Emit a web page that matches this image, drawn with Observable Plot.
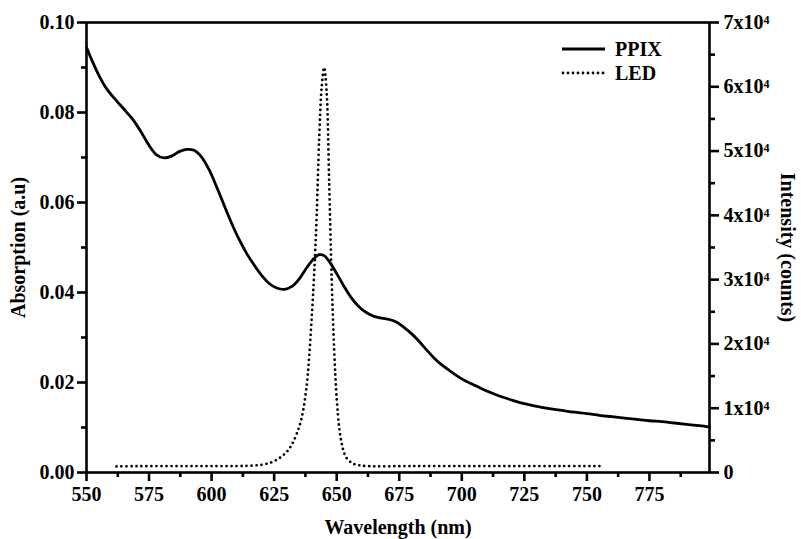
<!DOCTYPE html>
<html><head><meta charset="utf-8">
<script src="https://cdn.jsdelivr.net/npm/d3@7"></script>
<script src="https://cdn.jsdelivr.net/npm/@observablehq/plot@0.6"></script>
<style>
body{margin:0;background:#fff;}
#wrap{position:relative;width:801px;height:539px;}
#legend{position:absolute;left:560px;top:37px;font-family:'Liberation Serif',serif;font-weight:bold;font-size:20px;color:#000;line-height:24px;}
#legend div{display:flex;align-items:center;height:24px;}
#legend svg{margin-right:8px;}
</style></head><body><div id="wrap"><div id="chart"></div>
<div id="legend">
<div><svg width="47" height="6"><line x1="2" y1="3" x2="45" y2="3" stroke="#000" stroke-width="2.8"/></svg>PPIX</div>
<div><svg width="47" height="6"><line x1="3" y1="3" x2="45" y2="3" stroke="#000" stroke-width="2.8" stroke-dasharray="0,5" stroke-linecap="round"/></svg>LED</div>
</div></div>
<script>
// PPIX absorption spectrum (a.u)
const ppixWavelength = [550,552,555,558,562,566,569,572,575,578,581,584,587,590,593,596,599,602,605,608,611,614,617,620,623,626,629,632,635,638,641,643,645,647,650,653,656,659,662,665,668,671,674,677,680,683,686,689,692,696,700,705,710,715,720,725,730,735,740,745,750,755,760,765,770,775,780,785,790,795,799];
const ppixAbsorption = [0.0945,0.0918,0.0882,0.0853,0.0826,0.0801,0.0781,0.0755,0.0727,0.0706,0.0699,0.0703,0.0713,0.0718,0.0716,0.0701,0.0673,0.0635,0.0594,0.0554,0.0518,0.0487,0.0461,0.0438,0.0420,0.0410,0.0407,0.0413,0.0430,0.0455,0.0476,0.0484,0.0482,0.0469,0.0442,0.0413,0.0387,0.0368,0.0355,0.0347,0.0343,0.0340,0.0334,0.0322,0.0308,0.0291,0.0272,0.0254,0.0239,0.0223,0.0208,0.0194,0.0181,0.0170,0.0161,0.0153,0.0147,0.0142,0.0138,0.0134,0.0131,0.0127,0.0124,0.0121,0.0118,0.0115,0.0113,0.0110,0.0107,0.0104,0.0101];
// LED emission spectrum (counts)
const ledWavelength = [562,570,580,590,600,610,615,620,624,627,630,632,634,636,638,639,640,641,642,643,644,645,646,647,648,649,650,651,652,653,654,656,658,662,680,700,720,740,755];
const ledCounts = [950,980,1000,1000,1000,1000,1050,1200,1600,2200,3200,4300,6000,8500,13500,18000,24000,31000,40000,52000,60000,63000,59000,45000,30000,19000,11500,7000,4500,3000,2200,1500,1200,1000,1000,1000,1000,1000,1000];

const xTicks = [550,575,600,625,650,675,700,725,750,775];
const xMinor = [562.5,587.5,612.5,637.5,662.5,687.5,712.5,737.5,762.5,787.5];
const yTicks = [0,0.02,0.04,0.06,0.08,0.10];
const yMinor = [0.01,0.03,0.05,0.07,0.09];
const rightTicks = [0,10000,20000,30000,40000,50000,60000,70000];
const rightMinor = [5000,15000,25000,35000,45000,55000,65000];
const rightTickLabels = ["0","1x10\u2074","2x10\u2074","3x10\u2074","4x10\u2074","5x10\u2074","6x10\u2074","7x10\u2074"];

const countsMax = 70000, absMax = 0.1;
const toY = c => c / countsMax * absMax;
const ppix = ppixWavelength.map((w, i) => ({w, a: ppixAbsorption[i]}));
const led = ledWavelength.map((w, i) => ({w, c: ledCounts[i]}));
const rightLabel = d => rightTickLabels[Math.round(d / absMax * countsMax / 10000)];

const sw = 2.6;
const fs = 20;
const chart = Plot.plot({
  width: 801, height: 539,
  marginLeft: 86, marginRight: 92, marginTop: 22, marginBottom: 67,
  x: {domain: [550, 799]},
  y: {domain: [0, 0.1]},
  style: {fontFamily: "'Liberation Serif', serif", fontWeight: "bold", fontSize: fs + "px", color: "#000", background: "#fff"},
  marks: [
    Plot.axisX(xTicks, {tickSize: 9, strokeWidth: sw, tickPadding: 5, tickFormat: d => String(d), label: null, fontSize: fs}),
    Plot.axisX(xMinor, {tickSize: 5, strokeWidth: sw, tickFormat: () => "", label: null}),
    Plot.axisY(yTicks, {tickSize: 9, strokeWidth: sw, tickPadding: 3, tickFormat: d => d.toFixed(2), label: null, fontSize: fs}),
    Plot.axisY(yMinor, {tickSize: 5, strokeWidth: sw, tickFormat: () => "", label: null}),
    Plot.axisY(rightTicks.map(toY), {anchor: "right", tickSize: 9, strokeWidth: sw, tickPadding: 5, tickFormat: rightLabel, label: null, fontSize: fs}),
    Plot.axisY(rightMinor.map(toY), {anchor: "right", tickSize: 5, strokeWidth: sw, tickFormat: () => "", label: null}),
    Plot.frame({strokeWidth: sw}),
    Plot.line(ppix, {x: "w", y: "a", strokeWidth: 2.8, curve: "catmull-rom"}),
    Plot.line(led, {x: "w", y: d => toY(d.c), strokeWidth: 2.8, strokeDasharray: "0,5", strokeLinecap: "round", curve: "catmull-rom"}),
    Plot.text(["Absorption (a.u)"], {frameAnchor: "left", textAnchor: "middle", lineAnchor: "middle", rotate: -90, dx: -68, fontSize: fs, fontWeight: "bold"}),
    Plot.text(["Intensity (counts)"], {frameAnchor: "right", textAnchor: "middle", lineAnchor: "middle", rotate: 90, dx: 78, fontSize: fs, fontWeight: "bold"}),
    Plot.text(["Wavelength (nm)"], {frameAnchor: "bottom", lineAnchor: "middle", dy: 55, fontSize: fs, fontWeight: "bold"})
  ]
});
document.getElementById("chart").appendChild(chart);
</script></body></html>
